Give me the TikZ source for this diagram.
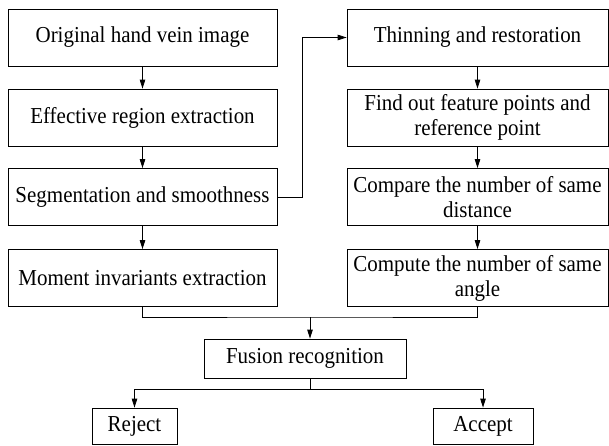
\documentclass[tikz,border=0pt]{standalone}
\usepackage{fontspec}
\setmainfont{Liberation Serif}[FakeStretch=0.92]
\usetikzlibrary{arrows.meta}
\begin{document}
\begin{tikzpicture}[
    x=1pt,y=-1pt,
    box/.style={draw,line width=0.8pt,align=center,inner sep=2pt,
        font=\fontsize{22.8}{25}\selectfont},
    lbox/.style={box,minimum width=269pt,minimum height=57pt},
    rbox/.style={box,minimum width=261pt,minimum height=57pt},
    line/.style={line width=0.8pt},
    >={Triangle[length=9pt,width=5.5pt]}
]
\useasboundingbox (0,0) rectangle (609,445);

% left column
\node[lbox] (orig) at (142.5,37.5) {Original hand vein image};
\node[lbox] (region) at (142.5,117.5) {Effective region extraction};
\node[lbox] (seg) at (142.5,197) {Segmentation and smoothness};
\node[lbox] (moment) at (142.5,278) {Moment invariants extraction};

% right column
\node[rbox] (thin) at (477.5,37.5) {Thinning and restoration};
\node[rbox] (feat) at (477.5,117.5) {Find out feature points and\\reference point};
\node[rbox] (dist) at (477.5,197) {Compare the number of same\\distance};
\node[rbox] (angle) at (477.5,278) {Compute the number of same\\angle};

% decision
\node[box,minimum width=202pt,minimum height=39pt] (fusion) at (305,358.5) {Fusion recognition};
\node[box,minimum width=85pt,minimum height=36pt] (reject) at (134.5,426) {Reject};
\node[box,minimum width=100pt,minimum height=36pt] (accept) at (483,426) {Accept};

\coordinate (turn) at (302,37.5);
\coordinate (join) at (310,317);
\coordinate (split) at (310,389);

\draw[->,line] (orig)--(region);
\draw[->,line] (region)--(seg);
\draw[->,line] (seg)--(moment);
\draw[->,line] (seg.east) -| (turn) -- (thin.west);
\draw[->,line] (thin)--(feat);
\draw[->,line] (feat)--(dist);
\draw[->,line] (dist)--(angle);

\draw[line] (moment.south) |- (join) -| (angle.south);
\draw[->,line] (join) -- (join |- fusion.north);
\draw[line] (split |- fusion.south) -- (split);
\draw[->,line] (split) -| (reject.north);
\draw[->,line] (split) -| (accept.north);
\end{tikzpicture}
\end{document}
